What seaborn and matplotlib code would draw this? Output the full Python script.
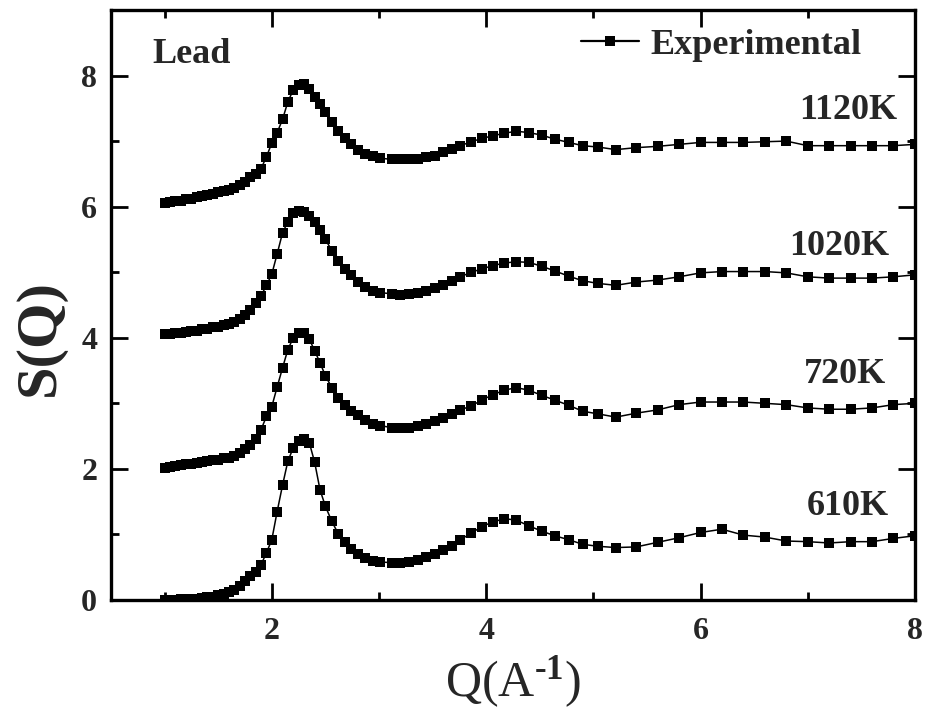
import numpy as np
import pandas as pd
import matplotlib
matplotlib.use("Agg")
import matplotlib.pyplot as plt
from matplotlib.ticker import MultipleLocator
from matplotlib.lines import Line2D
import seaborn as sns

# ---------------- data ----------------
q_values = [1.00, 1.05, 1.10, 1.15, 1.20, 1.25, 1.30, 1.35, 1.40, 1.45,
            1.50, 1.55, 1.60, 1.65, 1.70, 1.75, 1.80, 1.85, 1.90, 1.95,
            2.00, 2.05, 2.10, 2.15, 2.20, 2.25, 2.30, 2.35, 2.40, 2.45,
            2.50, 2.56, 2.62, 2.68, 2.74, 2.80, 2.87, 2.94, 3.01, 3.12,
            3.20, 3.28, 3.36, 3.44, 3.52, 3.60, 3.68, 3.76, 3.86, 3.96,
            4.06, 4.17, 4.28, 4.40, 4.52, 4.64, 4.77, 4.90, 5.04, 5.21,
            5.40, 5.60, 5.80, 6.00, 6.20, 6.40, 6.60, 6.80, 7.00, 7.20,
            7.40, 7.60, 7.80, 8.00]

s_610K = [0.00, 0.00, 0.00, 0.01, 0.01, 0.02, 0.02, 0.03, 0.04, 0.05,
          0.07, 0.09, 0.12, 0.16, 0.22, 0.29, 0.36, 0.43, 0.54, 0.72,
          0.92, 1.35, 1.75, 2.12, 2.32, 2.42, 2.45, 2.40, 2.10, 1.68,
          1.43, 1.20, 1.01, 0.88, 0.78, 0.70, 0.64, 0.60, 0.58, 0.57,
          0.56, 0.58, 0.61, 0.65, 0.70, 0.76, 0.83, 0.92, 1.02, 1.12,
          1.19, 1.24, 1.22, 1.13, 1.05, 0.98, 0.92, 0.85, 0.82, 0.80,
          0.81, 0.88, 0.95, 1.03, 1.08, 0.99, 0.96, 0.90, 0.89, 0.87,
          0.89, 0.89, 0.94, 0.98]

s_720K = [2.02, 2.03, 2.05, 2.06, 2.07, 2.08, 2.09, 2.11, 2.12, 2.13,
          2.14, 2.16, 2.17, 2.19, 2.24, 2.30, 2.37, 2.46, 2.60, 2.80,
          2.95, 3.25, 3.54, 3.82, 4.00, 4.08, 4.08, 3.98, 3.80, 3.62,
          3.42, 3.24, 3.08, 2.98, 2.88, 2.82, 2.75, 2.69, 2.66, 2.63,
          2.62, 2.62, 2.65, 2.68, 2.73, 2.78, 2.84, 2.90, 2.96, 3.05,
          3.13, 3.20, 3.24, 3.20, 3.12, 3.05, 2.97, 2.88, 2.84, 2.79,
          2.85, 2.90, 2.98, 3.02, 3.02, 3.02, 3.00, 2.98, 2.93, 2.91,
          2.91, 2.93, 2.98, 3.00]

s_1020K = [4.05, 4.06, 4.07, 4.08, 4.09, 4.10, 4.11, 4.13, 4.14, 4.16,
           4.17, 4.19, 4.21, 4.24, 4.28, 4.34, 4.43, 4.53, 4.64, 4.80,
           4.97, 5.28, 5.60, 5.77, 5.90, 5.93, 5.92, 5.86, 5.76, 5.64,
           5.50, 5.33, 5.17, 5.05, 4.95, 4.85, 4.78, 4.72, 4.69, 4.67,
           4.66, 4.67, 4.69, 4.72, 4.76, 4.81, 4.87, 4.93, 5.00, 5.05,
           5.10, 5.14, 5.16, 5.15, 5.09, 5.02, 4.94, 4.87, 4.83, 4.80,
           4.85, 4.88, 4.93, 4.99, 5.01, 5.01, 5.01, 4.99, 4.93, 4.91,
           4.91, 4.91, 4.93, 4.96]

s_1120K = [6.06, 6.07, 6.08, 6.09, 6.11, 6.12, 6.14, 6.16, 6.18, 6.20,
           6.22, 6.24, 6.26, 6.29, 6.33, 6.38, 6.45, 6.50, 6.58, 6.76,
           6.97, 7.13, 7.33, 7.60, 7.78, 7.86, 7.87, 7.79, 7.68, 7.56,
           7.44, 7.29, 7.16, 7.05, 6.95, 6.87, 6.81, 6.77, 6.74, 6.72,
           6.72, 6.72, 6.73, 6.75, 6.78, 6.83, 6.88, 6.93, 6.99, 7.04,
           7.08, 7.12, 7.15, 7.13, 7.09, 7.03, 6.98, 6.93, 6.91, 6.87,
           6.90, 6.92, 6.95, 6.98, 6.98, 6.98, 6.99, 7.00, 6.93, 6.93,
           6.93, 6.93, 6.93, 6.95]

temperatures = ["610K", "720K", "1020K", "1120K"]
series = [s_610K, s_720K, s_1020K, s_1120K]
label_x = [7.76, 7.73, 7.76, 7.84]
label_y = [1.30, 3.31, 5.27, 7.33]

x_ticks = [2, 4, 6, 8]
y_ticks = [0, 2, 4, 6, 8]
legend_label = "Experimental"
corner_text = "Lead"

df = pd.concat(
    [pd.DataFrame({"Q": q_values, "S": s, "T": t}) for s, t in zip(series, temperatures)],
    ignore_index=True,
)

# ---------------- style ----------------
sns.set_style("ticks")
plt.rcParams["font.family"] = ["Liberation Serif", "DejaVu Serif"]
plt.rcParams["font.weight"] = "bold"
plt.rcParams["mathtext.fontset"] = "custom"
plt.rcParams["mathtext.rm"] = "Liberation Serif"
plt.rcParams["mathtext.it"] = "Liberation Serif:italic"
plt.rcParams["mathtext.bf"] = "Liberation Serif:bold"

fig = plt.figure(figsize=(9.26, 7.28), dpi=100)
ax = fig.add_axes([0.1199, 0.1758, 0.8681, 0.8105])

for t in temperatures:
    sns.lineplot(data=df[df["T"] == t], x="Q", y="S", ax=ax, color="black",
                 marker="s", markersize=7.8, markeredgewidth=0, linewidth=1.1,
                 estimator=None, sort=False, legend=False)

ax.set_xlim(0.5, 8.0)
ax.set_ylim(0, 9.0)
ax.set_xticks(x_ticks)
ax.set_yticks(y_ticks)
ax.xaxis.set_minor_locator(MultipleLocator(1))
ax.yaxis.set_minor_locator(MultipleLocator(1))
ax.tick_params(which="both", direction="in", top=True, right=True, width=2, color="black")
ax.tick_params(which="major", length=12, labelsize=23)
ax.tick_params(axis="x", which="major", pad=12)
ax.tick_params(axis="y", which="major", pad=10)
ax.tick_params(which="minor", length=6)
for lab in ax.get_xticklabels() + ax.get_yticklabels():
    lab.set_fontweight("bold")
for sp in ax.spines.values():
    sp.set_linewidth(2.4)
    sp.set_color("black")

ax.set_xlabel(r"Q(A$^{\text{-1}}$)", fontsize=36, fontweight="normal", labelpad=6)
ax.set_ylabel("S(Q)", fontsize=42, fontweight="bold")
ax.yaxis.set_label_coords(-0.056, 0.445)

for t, lx, ly in zip(temperatures, label_x, label_y):
    ax.text(lx, ly, t, ha="right", va="baseline", fontsize=26, fontweight="bold")

ax.text(0.052, 0.91, corner_text, transform=ax.transAxes, fontsize=26,
        fontweight="bold", va="baseline", ha="left")

handle = Line2D([], [], color="black", marker="s", markersize=7.8,
                markeredgewidth=0, linewidth=1.6)
leg = ax.legend([handle], [legend_label], loc="upper right", frameon=False,
                prop={"size": 26, "weight": "bold", "family": "Liberation Serif"},
                handlelength=1.6, handletextpad=0.3, borderaxespad=0.2,
                bbox_to_anchor=(0.96, 1.005))

fig.savefig("out.png", dpi=100)
